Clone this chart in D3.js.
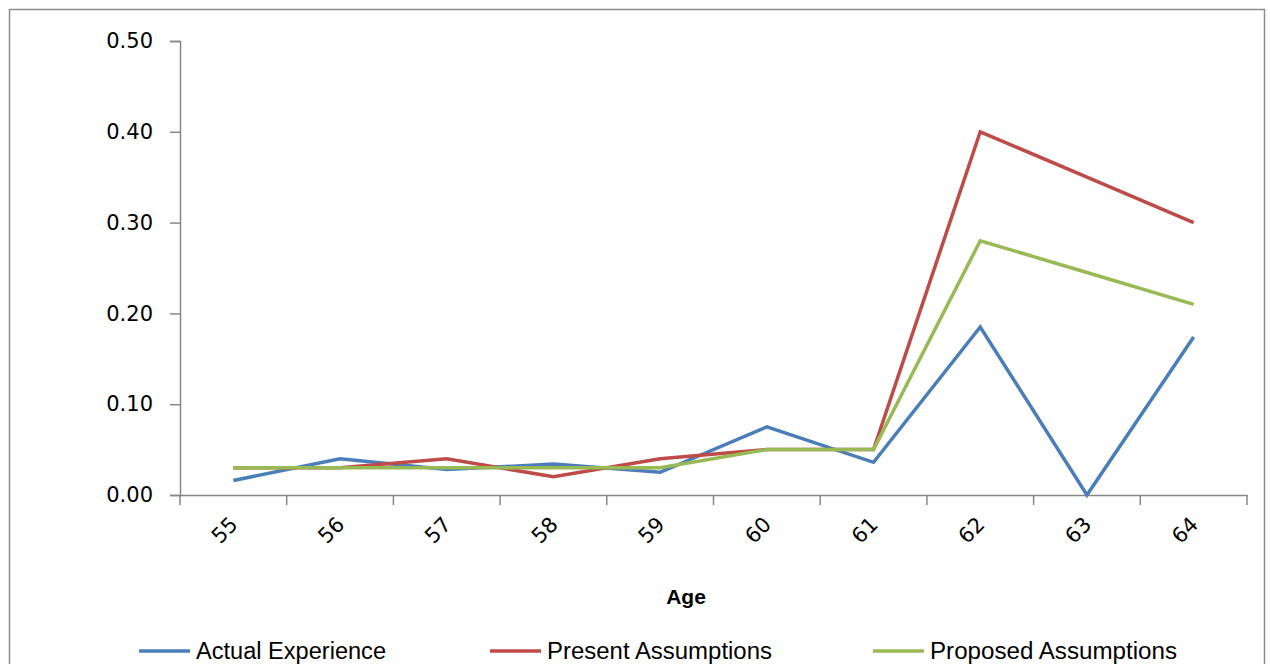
<!DOCTYPE html>
<html><head><meta charset="utf-8">
<script src="https://cdn.jsdelivr.net/npm/d3@7"></script>
<style>body{margin:0;background:#fff;} svg{display:block;}</style>
</head><body>
<svg id="c" width="1270" height="664"></svg>
<script>
const ages = ["55","56","57","58","59","60","61","62","63","64"];
const actualExperience = [0.016,0.040,0.028,0.034,0.025,0.075,0.036,0.185,0.000,0.174];
const presentAssumptions = [0.030,0.030,0.040,0.020,0.040,0.050,0.050,0.400,0.350,0.300];
const proposedAssumptions = [0.030,0.030,0.030,0.030,0.030,0.050,0.050,0.280,0.245,0.210];
const yTicks = [0,0.1,0.2,0.3,0.4,0.5];
const seriesNames = ["Actual Experience","Present Assumptions","Proposed Assumptions"];
const seriesColors = ["#4a7ebb","#be4b48","#98b954"];

const series = [actualExperience, presentAssumptions, proposedAssumptions];
const svg = d3.select("#c");
const L = 180, R = 1247, T = 41, B = 495;

svg.append("rect").attr("x",9.5).attr("y",9.5).attr("width",1255).attr("height",700)
  .attr("fill","none").attr("stroke","#8c8c8c").attr("stroke-width",1.5);

const x = d3.scaleBand().domain(ages).range([L,R]);
const y = d3.scaleLinear().domain([0,0.5]).range([B,T]);

const yAxis = svg.append("g").attr("transform",`translate(${L},0)`)
  .call(d3.axisLeft(y).tickValues(yTicks).tickFormat(d3.format(".2f")).tickSize(10).tickPadding(17));
yAxis.select(".domain").attr("stroke","#868686").attr("stroke-width",1.5);
yAxis.selectAll(".tick line").attr("stroke","#868686").attr("stroke-width",1.5);
yAxis.selectAll("text").attr("font-family","DejaVu Sans").attr("font-size",21).attr("fill","#000");

const xAxis = svg.append("g").attr("transform",`translate(0,${B})`)
  .call(d3.axisBottom(x).tickSize(0).tickSizeOuter(0));
xAxis.select(".domain").attr("stroke","#868686").attr("stroke-width",1.5);
xAxis.selectAll(".tick text").remove();
const bounds = ages.map(a=>x(a)).concat([x(ages[ages.length-1])+x.bandwidth()]);
xAxis.selectAll("line.bt").data(bounds).join("line").attr("class","bt")
  .attr("x1",d=>d).attr("x2",d=>d).attr("y1",0).attr("y2",10)
  .attr("stroke","#868686").attr("stroke-width",1.5);
xAxis.selectAll("text.lab").data(ages).join("text").attr("class","lab")
  .attr("transform",d=>`translate(${x(d)+x.bandwidth()/2-8},${36}) rotate(-45)`)
  .attr("text-anchor","middle").attr("dominant-baseline","middle")
  .attr("font-family","DejaVu Sans").attr("font-size",21).attr("fill","#000")
  .text(d=>d);

svg.append("text").attr("x",686).attr("y",604).attr("text-anchor","middle")
  .attr("font-family","Liberation Sans Narrow, Liberation Sans").attr("font-weight","bold")
  .attr("font-size",21).text("Age");

const line = d3.line().x((d,i)=>x(ages[i])+x.bandwidth()/2).y(d=>y(d));
series.forEach((s,k)=>{
  svg.append("path").datum(s).attr("d",line).attr("fill","none")
    .attr("stroke",seriesColors[k]).attr("stroke-width",3.5).attr("stroke-linejoin","miter");
});

const legX = [139,490,873];
const legW = [190,225,247];
seriesNames.forEach((n,k)=>{
  const g = svg.append("g").attr("transform",`translate(${legX[k]},651)`);
  g.append("line").attr("x1",0).attr("x2",51).attr("y1",0).attr("y2",0)
    .attr("stroke",seriesColors[k]).attr("stroke-width",3.5);
  g.append("text").attr("x",57).attr("y",8).attr("font-family","Liberation Sans Narrow, Liberation Sans")
    .attr("font-size",23).attr("fill","#000").attr("textLength",legW[k]).attr("lengthAdjust","spacingAndGlyphs").text(n);
});
</script>
</body></html>
